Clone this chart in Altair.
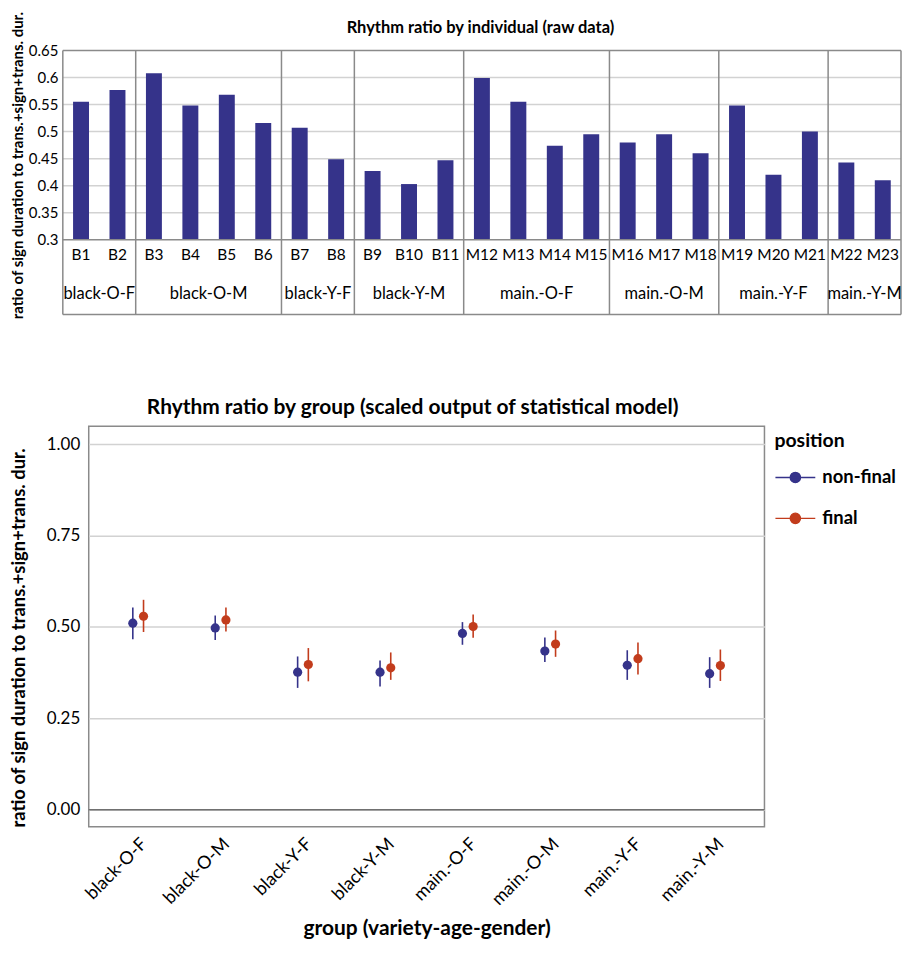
import altair as alt
import pandas as pd

# ---------------- data ----------------
individuals = ["B1", "B2", "B3", "B4", "B5", "B6", "B7", "B8", "B9", "B10", "B11",
               "M12", "M13", "M14", "M15", "M16", "M17", "M18", "M19", "M20", "M21", "M22", "M23"]
ind_groups = (["black-O-F"] * 2 + ["black-O-M"] * 4 + ["black-Y-F"] * 2 + ["black-Y-M"] * 3 +
              ["main.-O-F"] * 4 + ["main.-O-M"] * 3 + ["main.-Y-F"] * 3 + ["main.-Y-M"] * 2)
ratios = [0.555, 0.577, 0.608, 0.548, 0.568, 0.516, 0.507, 0.449, 0.427, 0.403, 0.447,
          0.599, 0.555, 0.474, 0.495, 0.480, 0.495, 0.460, 0.548, 0.420, 0.500, 0.443, 0.410]
top_ticks = [0.3, 0.35, 0.4, 0.45, 0.5, 0.55, 0.6, 0.65]
top_title = ["Rhythm ratio by individual (raw data)"]

groups = ["black-O-F", "black-O-M", "black-Y-F", "black-Y-M",
          "main.-O-F", "main.-O-M", "main.-Y-F", "main.-Y-M"]
positions = ["non-final", "final"]
nonfinal_mean = [0.510, 0.497, 0.376, 0.376, 0.482, 0.434, 0.395, 0.372]
nonfinal_lo = [0.466, 0.464, 0.333, 0.337, 0.451, 0.404, 0.355, 0.333]
nonfinal_hi = [0.553, 0.531, 0.419, 0.408, 0.513, 0.471, 0.436, 0.417]
final_mean = [0.529, 0.519, 0.397, 0.388, 0.501, 0.453, 0.413, 0.394]
final_lo = [0.486, 0.487, 0.351, 0.355, 0.470, 0.418, 0.370, 0.352]
final_hi = [0.574, 0.553, 0.442, 0.430, 0.534, 0.490, 0.457, 0.438]
bottom_ticks = [0, 0.25, 0.5, 0.75, 1.0]

FONT = "Lato"
NAVY = "#35338a"
ORANGE = "#c23c1c"
FRAME = "#8a8a8a"
GRID = "#d2d2d2"
YTITLE = "ratio of sign duration to trans.+sign+trans. dur."

# ---------------- top chart: raw data by individual ----------------
ind_df = pd.DataFrame({"individual": individuals, "group": ind_groups, "ratio": ratios})
ind_df["idx"] = list(range(len(individuals)))

grp_rows = []
bounds = [-0.5]
for g in groups:
    members = ind_df.loc[ind_df["group"] == g, "idx"]
    grp_rows.append({"group": g, "center": members.mean()})
    bounds.append(members.max() + 0.5)
grp_df = pd.DataFrame(grp_rows)
bound_df = pd.DataFrame({"pos": bounds})
line_df = pd.DataFrame({"a": [bounds[0]], "b": [bounds[-1]]})
grid_df = pd.DataFrame({"v": top_ticks[1:-1], "a": bounds[0], "b": bounds[-1]})
edge_df = pd.DataFrame({"v": [top_ticks[0], top_ticks[-1]], "a": bounds[0], "b": bounds[-1]})
title_df = pd.DataFrame({"t": top_title})

W1, H1 = 815, 190
xs = alt.Scale(domain=[-0.5, len(individuals) - 0.5], range=[-26, W1],
               padding=0, nice=False, zero=False)
ys1 = alt.Scale(domain=[0.3, 0.65], nice=False, zero=False)
axis1 = alt.Axis(values=top_ticks, format=".2~f", title=YTITLE, offset=26,
                 titleFontSize=15, titleFontWeight="bold", titlePadding=3,
                 titleY=115, grid=False, labelOverlap=False,
                 labelFontSize=15, labelPadding=5, ticks=False, domain=False)

grid1 = alt.Chart(grid_df).mark_rule(color=GRID, strokeWidth=1.5).encode(
    x=alt.X("a:Q", scale=xs, axis=None), x2="b:Q",
    y=alt.Y("v:Q", scale=ys1, axis=axis1))
bars = alt.Chart(ind_df).mark_bar(color=NAVY, size=16).encode(
    x=alt.X("idx:Q", scale=xs, axis=None),
    y=alt.Y("ratio:Q", scale=ys1, axis=axis1),
    y2=alt.datum(0.3),
)
edges = alt.Chart(edge_df).mark_rule(color=FRAME, strokeWidth=1.5).encode(
    x=alt.X("a:Q", scale=xs), x2="b:Q", y=alt.Y("v:Q", scale=ys1, axis=axis1))
seps = alt.Chart(bound_df).mark_rule(color=FRAME, strokeWidth=1.5).encode(
    x=alt.X("pos:Q", scale=xs), y=alt.value(0), y2=alt.value(H1 + 75))
bottom_line = alt.Chart(line_df).mark_rule(color=FRAME, strokeWidth=1.5).encode(
    x=alt.X("a:Q", scale=xs), x2="b:Q", y=alt.value(H1 + 75))
ind_labels = alt.Chart(ind_df).mark_text(fontSize=15.5, font=FONT, color="black").encode(
    x=alt.X("idx:Q", scale=xs), y=alt.value(H1 + 15), text="individual:N")
grp_labels = alt.Chart(grp_df).mark_text(fontSize=16.5, font=FONT, color="black").encode(
    x=alt.X("center:Q", scale=xs), y=alt.value(H1 + 54), text="group:N")
title1 = alt.Chart(title_df).mark_text(fontSize=16.5, fontWeight="bold", font=FONT,
                                       color="black").encode(
    x=alt.value(393), y=alt.value(-22), text="t:N")

top = alt.layer(grid1, bars, edges, seps, bottom_line, ind_labels, grp_labels, title1).properties(
    width=W1, height=H1,
    view=alt.ViewBackground(stroke="transparent"),
)

# ---------------- bottom chart: model output by group ----------------
rows = []
for i, g in enumerate(groups):
    rows.append({"group": g, "position": "non-final", "mean": nonfinal_mean[i],
                 "lo": nonfinal_lo[i], "hi": nonfinal_hi[i]})
    rows.append({"group": g, "position": "final", "mean": final_mean[i],
                 "lo": final_lo[i], "hi": final_hi[i]})
mdf = pd.DataFrame(rows)

W2, H2 = 678, 402
ys = alt.Scale(domain=[-0.047, 1.049], nice=False, zero=False)
color = alt.Color("position:N", sort=positions,
                  scale=alt.Scale(domain=positions, range=[NAVY, ORANGE]),
                  legend=alt.Legend(title="position", orient="none", legendX=W2 + 10, legendY=6,
                                    titleFontSize=19.5, titleFontWeight="bold",
                                    labelFontSize=18.5, labelFontWeight="bold",
                                    symbolType="M-1,0L1,0M-0.26,0A0.26,0.26,0,1,1,0.26,0A0.26,0.26,0,1,1,-0.26,0Z",
                                    symbolSize=1600, symbolStrokeWidth=1.3,
                                    labelOffset=6, rowPadding=10, titlePadding=5,
                                    padding=0))

base = alt.Chart(mdf).encode(
    x=alt.X("group:N", sort=groups,
            scale=alt.Scale(paddingInner=0.74, paddingOuter=0.47),
            axis=alt.Axis(title="group (variety-age-gender)", titleFontSize=21,
                          titleFontWeight="bold", titlePadding=9,
                          labelAngle=-45, labelFontSize=18, labelPadding=8,
                          ticks=False, domain=False)),
    xOffset=alt.XOffset("position:N", sort=positions,
                        scale=alt.Scale(paddingInner=0, paddingOuter=0)),
    color=color,
)
err = base.mark_rule(strokeWidth=1.6).encode(
    y=alt.Y("lo:Q", scale=ys,
            axis=alt.Axis(values=bottom_ticks, format=".2f", title=YTITLE,
                          titleFontSize=18.5, titleFontWeight="bold", titlePadding=18,
                          titleY=212,
                          labelFontSize=17, labelPadding=9, ticks=False, domain=False,
                          gridColor=GRID, gridWidth=1.5)),
    y2="hi:Q",
)
pts = base.mark_circle(size=85, opacity=1).encode(y=alt.Y("mean:Q", scale=ys))
zero = alt.Chart(pd.DataFrame({"v": [0.0]})).mark_rule(color="#707070", strokeWidth=1.5).encode(
    y=alt.Y("v:Q", scale=ys))

bottom = alt.layer(zero, err, pts).properties(
    width=W2, height=H2,
    title=alt.TitleParams("Rhythm ratio by group (scaled output of statistical model)",
                          fontSize=21, fontWeight="bold", offset=8, dx=-14, font=FONT),
)

chart = alt.concat(top, bottom, columns=1, spacing=76).resolve_scale(
    color="independent"
).resolve_legend(
    color="independent"
).properties(
    padding={"left": 0, "top": 0, "right": 0, "bottom": 0}
).configure(font=FONT).configure_view(
    stroke=FRAME, strokeWidth=1.5
).configure_axis(
    labelColor="black", titleColor="black", labelFont=FONT, titleFont=FONT
).configure_legend(
    labelColor="black", titleColor="black", labelFont=FONT, titleFont=FONT
).configure_title(color="black")

chart.save("out.html", embed_options={"renderer": "svg", "actions": False})
